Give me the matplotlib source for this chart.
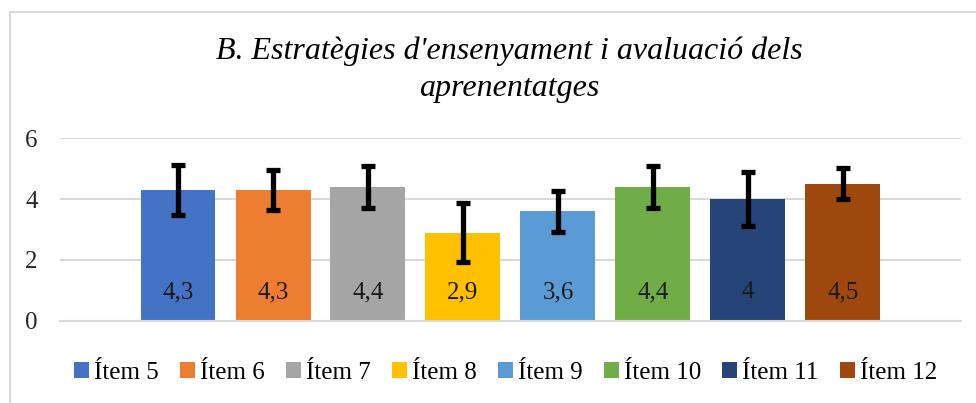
import numpy as np
import matplotlib.pyplot as plt
from matplotlib.patches import Rectangle

# data
items = ['Ítem 5', 'Ítem 6', 'Ítem 7', 'Ítem 8', 'Ítem 9', 'Ítem 10', 'Ítem 11', 'Ítem 12']
means = [4.3, 4.3, 4.4, 2.9, 3.6, 4.4, 4.0, 4.5]
errs = [0.81, 0.67, 0.70, 0.96, 0.68, 0.69, 0.90, 0.51]
labels = ['4,3', '4,3', '4,4', '2,9', '3,6', '4,4', '4', '4,5']
colors = ['#4472C4', '#ED7D31', '#A5A5A5', '#FFC000', '#5B9BD5', '#70AD47', '#264478', '#9E480E']

plt.rcParams['font.family'] = ['Liberation Serif', 'DejaVu Serif']

fig = plt.figure(figsize=(9.76, 4.03), dpi=100)
ax = fig.add_axes([60/976, 82.3/403, 901/976, 182.4/403])

x = np.arange(len(items))
w = 75/95
handles = []
for i in range(len(items)):
    b = ax.bar(x[i], means[i], width=w, color=colors[i], label=items[i], zorder=2)
    handles.append(b)
    ax.errorbar(x[i], means[i], yerr=errs[i], fmt='none', ecolor='black',
                elinewidth=3.8, capsize=5, capthick=3.8, zorder=3)
    ax.annotate(labels[i], xy=(x[i], 0), xytext=(0, 20.5), textcoords='offset points',
                ha='center', va='center', fontsize=18, color='#1a1a1a', zorder=4)

half = 901/95/2
ax.set_xlim(3.5 - half, 3.5 + half)
ax.set_ylim(0, 6)
ax.set_yticks([0, 2, 4, 6])
ax.set_xticks([])
ax.grid(axis='y', color='#d9d9d9', linewidth=1.5, zorder=0)
for s in ['top', 'right', 'left']:
    ax.spines[s].set_visible(False)
ax.spines['bottom'].set_color('#d9d9d9')
ax.spines['bottom'].set_linewidth(1.5)
ax.tick_params(axis='y', length=0, labelsize=18, pad=16, labelcolor='#262626')

fig.text(509/976, 1 - 70/403, "B. Estratègies d'ensenyament i avaluació dels\naprenentatges",
         ha='center', va='center', fontsize=23, style='italic', linespacing=1.35)

ax.legend(handles=handles, loc='center', bbox_to_anchor=(0.518, 30/403), bbox_transform=fig.transFigure,
          ncol=8, frameon=False, fontsize=18, handlelength=0.6, handleheight=0.6,
          handletextpad=0.2, columnspacing=0.85)

fig.patches.append(Rectangle((10/976, -0.1), 1.1, (403-12)/403 + 0.1, transform=fig.transFigure,
                             fill=False, edgecolor='#d9d9d9', linewidth=1.5))

fig.savefig('out.png', dpi=100)
